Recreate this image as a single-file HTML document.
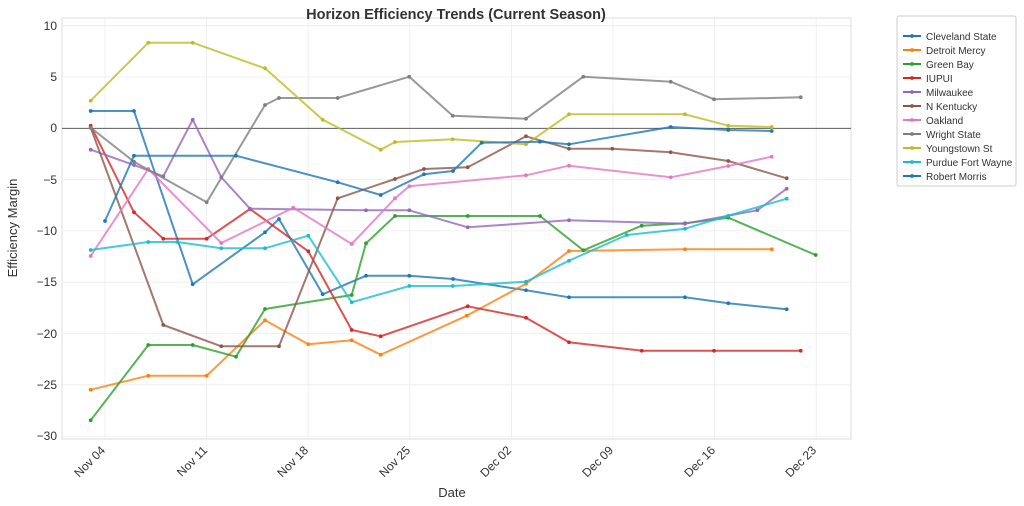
<!DOCTYPE html>
<html><head><meta charset="utf-8"><style>body{margin:0;background:#fff}svg{display:block;font-family:"Liberation Sans","DejaVu Sans",sans-serif}</style></head><body>
<svg width="1024" height="506" viewBox="0 0 1024 506">
<defs>
<marker id="m" viewBox="-3 -3 6 6" markerWidth="4.5" markerHeight="4.5" markerUnits="userSpaceOnUse" refX="0" refY="0"><circle r="2.5" fill="context-stroke"/></marker>
</defs>
<rect x="62" y="18" width="789" height="421" fill="#fff" stroke="#ddd" stroke-width="1"/>
<g stroke="#ececec" stroke-width="0.8">
<line x1="105" y1="18" x2="105" y2="439"/><line x1="206.6" y1="18" x2="206.6" y2="439"/><line x1="308.2" y1="18" x2="308.2" y2="439"/><line x1="409.8" y1="18" x2="409.8" y2="439"/><line x1="511.4" y1="18" x2="511.4" y2="439"/><line x1="613" y1="18" x2="613" y2="439"/><line x1="714.6" y1="18" x2="714.6" y2="439"/><line x1="816.2" y1="18" x2="816.2" y2="439"/>
<line x1="62" y1="25.7" x2="851" y2="25.7"/><line x1="62" y1="77" x2="851" y2="77"/><line x1="62" y1="179.6" x2="851" y2="179.6"/><line x1="62" y1="230.9" x2="851" y2="230.9"/><line x1="62" y1="282.2" x2="851" y2="282.2"/><line x1="62" y1="333.5" x2="851" y2="333.5"/><line x1="62" y1="384.8" x2="851" y2="384.8"/><line x1="62" y1="436.1" x2="851" y2="436.1"/>
</g>
<line x1="62" y1="128.3" x2="851" y2="128.3" stroke="#444" stroke-width="0.9"/>
<g font-size="12" fill="#333" text-anchor="end">
<text x="57" y="30">10</text><text x="57" y="81">5</text><text x="57" y="132">0</text><text x="57" y="184">−5</text><text x="57" y="235">−10</text><text x="57" y="286">−15</text><text x="57" y="338">−20</text><text x="57" y="389">−25</text><text x="57" y="440">−30</text>
</g>
<g font-size="12" fill="#333" text-anchor="end">
<text transform="translate(106,451) rotate(-45)">Nov 04</text>
<text transform="translate(208,451) rotate(-45)">Nov 11</text>
<text transform="translate(309,451) rotate(-45)">Nov 18</text>
<text transform="translate(411,451) rotate(-45)">Nov 25</text>
<text transform="translate(512,451) rotate(-45)">Dec 02</text>
<text transform="translate(614,451) rotate(-45)">Dec 09</text>
<text transform="translate(716,451) rotate(-45)">Dec 16</text>
<text transform="translate(817,451) rotate(-45)">Dec 23</text>
</g>
<text x="452" y="497" font-size="13" fill="#333" text-anchor="middle">Date</text>
<text transform="translate(17,228) rotate(-90)" font-size="13" fill="#333" text-anchor="middle">Efficiency Margin</text>
<text x="456" y="19" font-size="14.5" font-weight="bold" fill="#333" text-anchor="middle">Horizon Efficiency Trends (Current Season)</text>
<g fill="none" stroke-width="2" stroke-opacity="0.8" stroke-linejoin="round" marker-start="url(#m)" marker-mid="url(#m)" marker-end="url(#m)">
<polyline stroke="#1f77b4" points="90.7,111 134,111 192.7,284.3 265,232.3 279,219 322.7,294.3 366,275.7 409.3,275.7 453,279 526,290.3 569,297.3 685,297.3 728.3,303.3 786.7,309.3"/>
<polyline stroke="#ff7f0e" points="90.7,389.7 148.3,375.7 206.7,375.7 265,320.3 308.3,344.3 351.7,340.3 380.7,354.7 466.7,315.7 526,283.7 569,251 685,249.3 771.7,249.3"/>
<polyline stroke="#2ca02c" points="90.7,420.3 148.3,345 192.7,345 236,356.7 265,309 351.7,295 366,243.3 395,216 467.7,216 540,216 583.3,250.3 641.7,225.7 685,223.3 728.3,217.7 815.7,255"/>
<polyline stroke="#d62728" points="90.7,125.7 134,212.3 163.3,238.7 206.7,238.7 250,209 308.3,251.3 351.7,330 380.7,336.3 467.7,306.3 526,317.7 569,342.3 641.7,350.7 714,350.7 800.7,350.7"/>
<polyline stroke="#9467bd" points="90.7,149.7 134,165 163.3,176.3 192.7,119.7 221.3,177.3 250,208.7 366,210.3 409.3,210.3 467.7,227.3 569,220.3 685,223.7 757.3,210.3 786.7,188.7"/>
<polyline stroke="#8c564b" points="90.7,127.7 163.3,325 221.3,346.3 279,346.3 337.7,198.3 395,179 424,169 467.7,167.3 526,136.3 569,148.7 612.3,148.7 670.7,152.3 728.3,161 786.7,178.3"/>
<polyline stroke="#e377c2" points="90.7,256 148.3,169 221.3,243 293.3,207.7 351.7,244 395,198.3 409.3,186.3 526,175.3 569,165.7 670.7,177.3 728.3,166 771.7,156.7"/>
<polyline stroke="#7f7f7f" points="90.7,127.7 134,161.7 206.7,202.3 265,105 279,98 337.7,98 409.3,76.7 452.7,115.7 526,118.7 583.3,76.7 670.7,81.7 714,99.3 800.7,97.3"/>
<polyline stroke="#bcbd22" points="90.7,100.7 148.3,42.7 192.7,42.7 265,68.3 322.7,119.7 380.7,149.7 395,142 452.7,139.3 526,144.3 569,114.3 685,114.3 728.3,125.7 771.7,127"/>
<polyline stroke="#17becf" points="90.7,250 148.3,242 177.3,242 221.3,248.3 265,248.3 308.3,235.7 351.7,302.3 409.3,286 452.7,286 526,281.7 569,260.7 626.7,235 685,228.7 728.3,215.7 786.7,198.7"/>
<polyline stroke="#1f77b4" points="105,221 134,155.7 236,155.7 337.7,182.3 380.7,195 424,174.3 453,171 481.7,142.7 540,141.7 569,144.3 670.7,127 728.3,130 771.7,131"/>
</g>
<rect x="897" y="16" width="119" height="170" fill="#fff" stroke="#ccc" rx="2"/>
<g font-size="10" fill="#333">
<g stroke-width="2" marker-mid="url(#m)"><polyline points="903,36 912,36 921,36" stroke="#1f77b4"/><polyline points="903,50 912,50 921,50" stroke="#ff7f0e"/><polyline points="903,64 912,64 921,64" stroke="#2ca02c"/><polyline points="903,78 912,78 921,78" stroke="#d62728"/><polyline points="903,92 912,92 921,92" stroke="#9467bd"/><polyline points="903,106 912,106 921,106" stroke="#8c564b"/><polyline points="903,120 912,120 921,120" stroke="#e377c2"/><polyline points="903,134 912,134 921,134" stroke="#7f7f7f"/><polyline points="903,148 912,148 921,148" stroke="#bcbd22"/><polyline points="903,162 912,162 921,162" stroke="#17becf"/><polyline points="903,176 912,176 921,176" stroke="#1f77b4"/></g>
<text x="926" y="40">Cleveland State</text><text x="926" y="54">Detroit Mercy</text><text x="926" y="68">Green Bay</text><text x="926" y="82">IUPUI</text><text x="926" y="96">Milwaukee</text><text x="926" y="110">N Kentucky</text><text x="926" y="124">Oakland</text><text x="926" y="138">Wright State</text><text x="926" y="152">Youngstown St</text><text x="926" y="166">Purdue Fort Wayne</text><text x="926" y="180">Robert Morris</text>
</g>
</svg>
</body></html>
